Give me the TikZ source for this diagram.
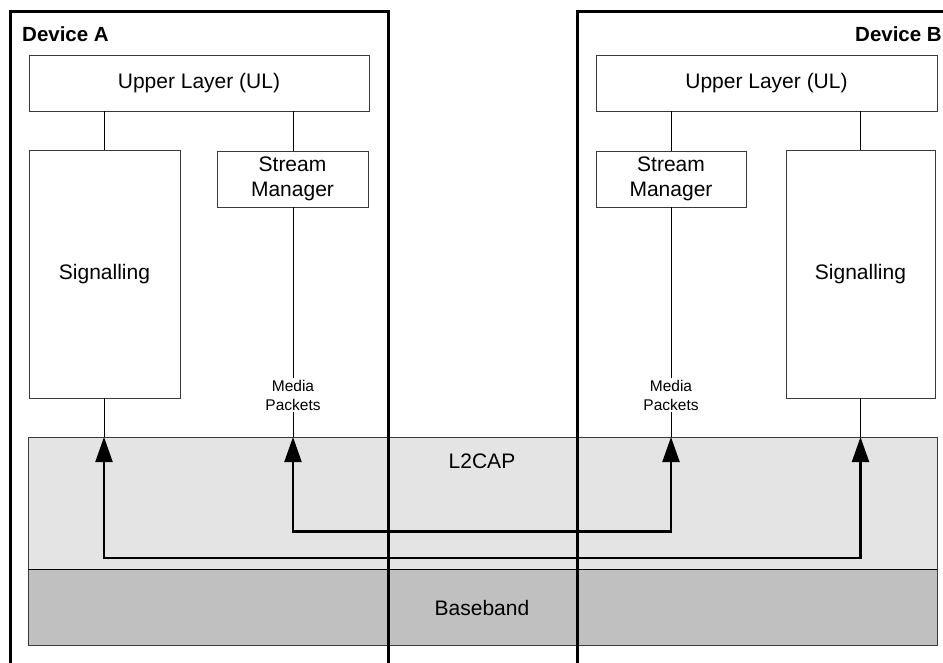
\documentclass[tikz,border=0pt]{standalone}
\usepackage{fontspec}
\setmainfont{Liberation Sans}
\usetikzlibrary{arrows.meta}
\definecolor{ltgray}{HTML}{E4E4E4}
\definecolor{dkgray}{HTML}{C0C0C0}
\definecolor{edge}{HTML}{3A3A3A}
\begin{document}
\begin{tikzpicture}[x=1pt,y=-1pt,
  box/.style={draw=edge,line width=0.9pt,fill=white},
  lbl/.style={font=\fontsize{21}{25}\selectfont,align=center,inner sep=0pt},
  small/.style={font=\fontsize{15.5}{19}\selectfont,align=center,inner sep=2pt},
  devtitle/.style={font=\fontsize{20.5}{24}\selectfont\bfseries,inner sep=0pt},
  device/.style={draw=black,line width=3pt},
  thin/.style={draw=black,line width=0.8pt},
  flow/.style={draw=black,line width=2.2pt,{Triangle[length=25pt,width=17pt]}-{Triangle[length=25pt,width=17pt]}}
]
\useasboundingbox (0,0) rectangle (943,662);
% layers
\draw[draw=edge,line width=1pt,fill=ltgray] (28,437) rectangle (937,569);
\draw[draw=edge,line width=1pt,fill=dkgray] (28,569) rectangle (937,645);
\draw[black,line width=1pt] (28,569) -- (937,569);
\node[lbl] (l2cap) at (482,461) {L2CAP};
\node[lbl] (bb) at (482,608) {Baseband};
% device A blocks
\draw[box] (29,55) rectangle (369,111);
\node[lbl] (ulA) at (199,83) {Upper Layer (UL)};
\draw[box] (29,150) rectangle (180,398);
\node[lbl] (sigA) at (104.5,274) {Signalling};
\draw[box] (217,151) rectangle (368,207);
\node[lbl] (smA) at (292.5,179) {Stream\\Manager};
% device B blocks
\draw[box] (596,55) rectangle (937,111);
\node[lbl] (ulB) at (766.5,83) {Upper Layer (UL)};
\draw[box] (596,151) rectangle (746,207);
\node[lbl] (smB) at (671,179) {Stream\\Manager};
\draw[box] (786,150) rectangle (935,398);
\node[lbl] (sigB) at (860.5,274) {Signalling};
% media packets
\node[small] (mpA) at (293,395) {Media\\Packets};
\node[small] (mpB) at (671,395) {Media\\Packets};
% coordinates
\coordinate (ulAl) at (104,111);
\coordinate (sigAt) at (104,150);
\coordinate (ulAr) at (293,111);
\coordinate (smAt) at (293,151);
\coordinate (smAb) at (293,207);
\coordinate (sigAb) at (104,398);
\coordinate (tA1) at (104,437);
\coordinate (tA2) at (293,437);
\coordinate (ulBl) at (671,111);
\coordinate (smBt) at (671,151);
\coordinate (smBb) at (671,207);
\coordinate (ulBr) at (860.5,111);
\coordinate (sigBt) at (860.5,150);
\coordinate (sigBb) at (860.5,398);
\coordinate (tB1) at (671,437);
\coordinate (tB2) at (860.5,437);
\coordinate (cA1) at (104,558);
\coordinate (cB2) at (860.5,558);
\coordinate (cA2) at (293,531.5);
\coordinate (cB1) at (671,531.5);
% thin connectors
\draw[thin] (ulAl) -- (sigAt);
\draw[thin] (ulAr) -- (smAt);
\draw[thin] (smAb) -- (mpA);
\draw[thin] (mpA) -- (tA2);
\draw[thin] (sigAb) -- (tA1);
\draw[thin] (ulBl) -- (smBt);
\draw[thin] (ulBr) -- (sigBt);
\draw[thin] (smBb) -- (mpB);
\draw[thin] (mpB) -- (tB1);
\draw[thin] (sigBb) -- (tB2);
% flows
\draw[flow] (tA1) -- (cA1) -- (cB2) -- (tB2);
\draw[flow] (tA2) -- (cA2) -- (cB1) -- (tB1);
% device frames
\draw[device] (10,672) -- (10,11) -- (388,11) -- (388,672);
\draw[device] (577,672) -- (577,11) -- (955,11);
\node[devtitle,anchor=base west] (devA) at (22,41) {Device A};
\node[devtitle,anchor=base east] (devB) at (942,41) {Device B};
\end{tikzpicture}
\end{document}
